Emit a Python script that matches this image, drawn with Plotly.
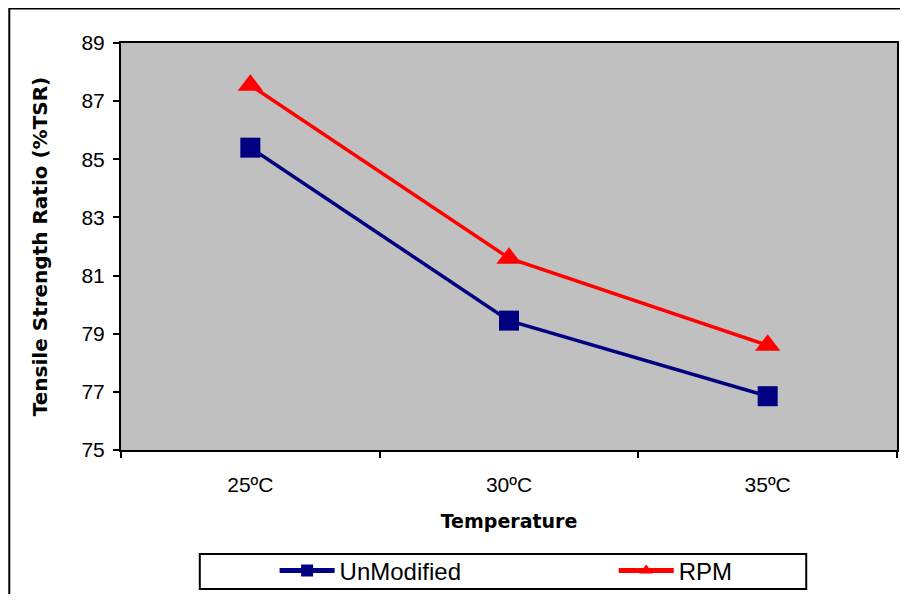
import plotly.graph_objects as go

categories = ["25ºC", "30ºC", "35ºC"]
unmodified = [85.4, 79.45, 76.85]
rpm = [87.55, 81.6, 78.6]
y_ticks = [75, 77, 79, 81, 83, 85, 87, 89]

FONT = "Arial, Liberation Sans, sans-serif"
TFONT = "DejaVu Sans, sans-serif"

# figure sits inside the page's 8px body margin
W, H = 892, 586
L, R, T, B = 113, 1, 35, 144
PW = W - L - R
PH = H - T - B


def px(xs):  # screen x -> paper
    return (xs - 8 - L) / PW


def py(ys):  # screen y -> paper
    return (H - B - (ys - 8)) / PH


fig = go.Figure()
fig.add_trace(go.Scatter(
    x=categories, y=unmodified, name="UnModified", mode="lines+markers",
    line=dict(color="#000080", width=3.5),
    marker=dict(symbol="square", size=20, color="#000080"),
    legend="legend",
))
fig.add_trace(go.Scatter(
    x=categories, y=rpm, name="RPM", mode="lines+markers",
    line=dict(color="#FF0000", width=3.5),
    marker=dict(symbol="triangle-up", size=22, color="#FF0000"),
    legend="legend2",
))

leg_common = dict(orientation="h", xanchor="left", yanchor="middle",
                  font=dict(size=24, family=FONT, color="black"),
                  bgcolor="rgba(0,0,0,0)", itemsizing="constant", itemwidth=55)

fig.update_layout(
    width=W, height=H,
    margin=dict(l=L, r=R, t=T, b=B),
    paper_bgcolor="white", plot_bgcolor="#C0C0C0",
    font=dict(family=FONT, color="black", size=20),
    showlegend=True,
    legend=dict(x=px(275), y=py(571), **leg_common),
    legend2=dict(x=px(615), y=py(571), **leg_common),
    xaxis=dict(
        type="category", range=[-0.5, 2.5], tickson="boundaries",
        ticks="outside", ticklen=6, tickwidth=1.5, tickcolor="black",
        showline=True, linecolor="black", linewidth=2, mirror=True,
        showgrid=False, zeroline=False,
        tickfont=dict(size=21, family=FONT), ticklabelstandoff=15,
        title=dict(text="<b>Temperature</b>", font=dict(size=19, family=TFONT), standoff=19),
    ),
    yaxis=dict(
        range=[75, 89], tickvals=y_ticks,
        ticks="outside", ticklen=6, tickwidth=1.5, tickcolor="black",
        showline=True, linecolor="black", linewidth=2, mirror=True,
        showgrid=False, zeroline=False,
        tickfont=dict(size=21, family=FONT), ticklabelstandoff=4,
        title=dict(text="<b>Tensile Strength Ratio (%TSR)</b>", font=dict(size=20, family=TFONT), standoff=28),
    ),
    shapes=[
        dict(type="rect", xref="paper", yref="paper",
             x0=(1 - L) / PW, x1=(W + 10 - L) / PW,
             y0=(H - B - 0.5) / PH, y1=(H - B - (H + 10)) / PH,
             line=dict(color="black", width=2), fillcolor="rgba(0,0,0,0)", layer="below"),
        dict(type="rect", xref="paper", yref="paper",
             x0=px(200), x1=px(808), y0=py(554), y1=py(589),
             line=dict(color="black", width=2), fillcolor="rgba(0,0,0,0)"),
    ],
)

fig.write_html("out.html")
